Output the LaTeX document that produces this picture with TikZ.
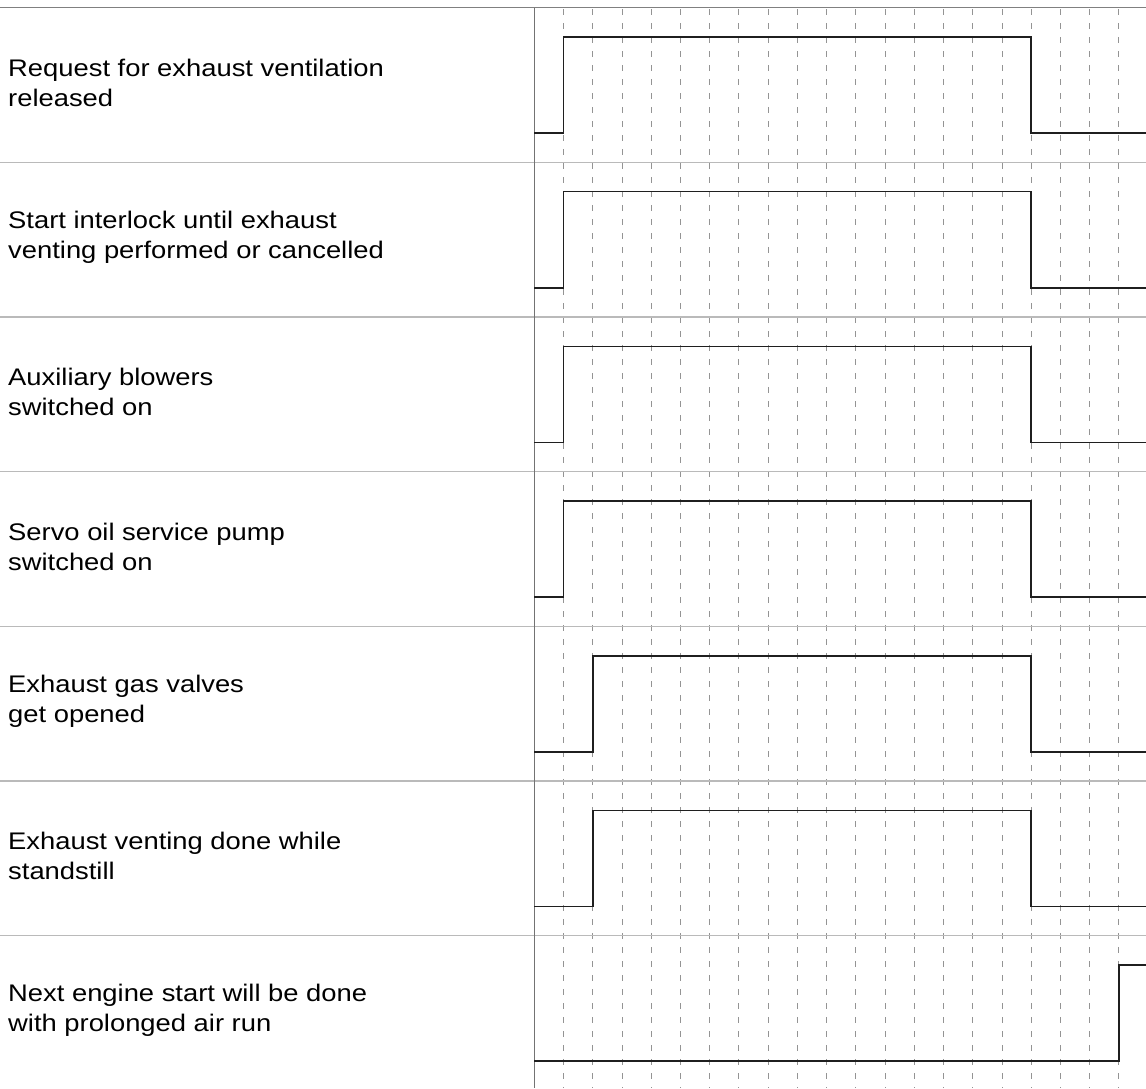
\documentclass[tikz,border=0pt]{standalone}
\usepackage{fontspec}
\setmainfont{Liberation Sans}
\begin{document}
\begin{tikzpicture}[x=1pt,y=-1pt,
  sepline/.style={draw=black!27, line width=1.2pt},
  topline/.style={draw=black!50, line width=1.5pt},
  axisline/.style={draw=black!55, line width=1.2pt},
  gridline/.style={draw=black!42, line width=0.9pt, dash pattern=on 6pt off 8pt},
  sig/.style={draw=black!88, line width=1.6pt},
  lbl/.style={anchor=west, align=left, inner sep=0pt, font=\fontsize{24}{30}\selectfont, xscale=1.14}]
\fill[white] (0,0) rectangle (1146,1088);
\useasboundingbox (0,0) rectangle (1146,1088);
% dashed time grid
\foreach \i in {1,...,20}{
  \draw[gridline] ({534.3+29.23*\i},9) -- ({534.3+29.23*\i},1088);
}
% row separators
\foreach \k in {1,...,6}{
  \draw[sepline] (0,{7.5+154.7*\k}) -- (1146,{7.5+154.7*\k});
}
\draw[topline] (0,7.5) -- (1146,7.5);
\draw[axisline] (534.3,7.5) -- (534.3,1088);
% labels
\node[lbl] (l1) at (8,{7.5+154.7*0+75}) {Request for exhaust ventilation\\released};
\node[lbl] (l2) at (8,{7.5+154.7*1+75}) {Start interlock until exhaust\\venting performed or cancelled};
\node[lbl] (l3) at (8,{7.5+154.7*2+75}) {Auxiliary blowers\\switched on};
\node[lbl] (l4) at (8,{7.5+154.7*3+75}) {Servo oil service pump\\switched on};
\node[lbl] (l5) at (8,{7.5+154.7*4+75}) {Exhaust gas valves\\get opened};
\node[lbl] (l6) at (8,{7.5+154.7*5+75}) {Exhaust venting done while\\standstill};
\node[lbl] (l7) at (8,{7.5+154.7*6+75}) {Next engine start will be done\\with prolonged air run};
% signals
\foreach \r/\rise in {0/563.5,1/563.5,2/563.5,3/563.5,4/592.8,5/592.8}{
  \draw[sig] (534.3,{7.5+154.7*\r+125.5}) -- (\rise,{7.5+154.7*\r+125.5})
    -- (\rise,{7.5+154.7*\r+29.4}) -- (1031.2,{7.5+154.7*\r+29.4})
    -- (1031.2,{7.5+154.7*\r+125.5}) -- (1146,{7.5+154.7*\r+125.5});
}
\draw[sig] (534.3,{7.5+154.7*6+125.5}) -- (1118.9,{7.5+154.7*6+125.5})
  -- (1118.9,{7.5+154.7*6+29.4}) -- (1146,{7.5+154.7*6+29.4});
\end{tikzpicture}
\end{document}
